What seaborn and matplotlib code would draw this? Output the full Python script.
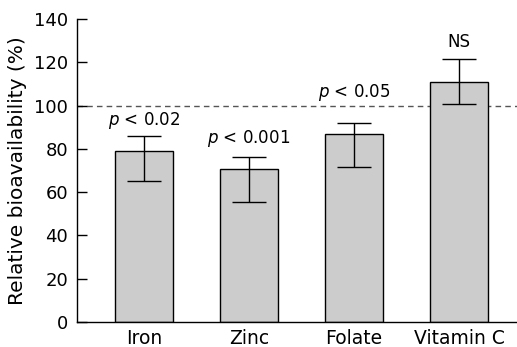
import numpy as np
import pandas as pd
import matplotlib
matplotlib.use("Agg")
import matplotlib.pyplot as plt
import seaborn as sns

# values
nutrients = ["Iron", "Zinc", "Folate", "Vitamin C"]
bioavail = [79, 70.7, 86.7, 111]
ci_low = [65.3, 55.6, 71.5, 100.7]
ci_high = [86, 76.4, 91.8, 121.4]
p_labels = ["$p$ < 0.02", "$p$ < 0.001", "$p$ < 0.05", "NS"]

sns.set_style("ticks")
plt.rcParams["font.family"] = ["DejaVu Sans"]
plt.rcParams["font.size"] = 12.5
plt.rcParams["text.color"] = "black"
plt.rcParams["axes.labelcolor"] = "black"
plt.rcParams["xtick.color"] = "black"
plt.rcParams["ytick.color"] = "black"

df = pd.DataFrame({"nutrient": nutrients, "value": bioavail})

fig = plt.figure(figsize=(5.17, 3.47), dpi=100)
ax = fig.add_axes([0.148, 0.072, 0.852, 0.873])

sns.barplot(data=df, x="nutrient", y="value", color="#cccccc",
            edgecolor="black", linewidth=1.0, width=0.55,
            errorbar=None, saturation=1, ax=ax)

x = np.arange(len(nutrients))
vals = np.array(bioavail)
yerr = np.vstack([vals - np.array(ci_low), np.array(ci_high) - vals])
ax.errorbar(x, vals, yerr=yerr, fmt="none", ecolor="black",
            elinewidth=1.0, capsize=12, capthick=1.0, zorder=3)

# reference line at 100 %
ax.axhline(100, color="#555555", linestyle=(0, (4, 3)), linewidth=1.0, zorder=0)

# significance labels above the whiskers
offsets = [7, 8.5, 14.5, 8]
for xi, top, lab, off in zip(x, ci_high, p_labels, offsets):
    ax.text(xi, top + off, lab, ha="center", va="center", fontsize=12)

ax.set_ylim(0, 140)
ax.set_xlim(-0.64, 3.55)
ax.set_yticks(range(0, 141, 20))
ax.set_xlabel("")
ax.set_ylabel("Relative bioavailability (%)", fontsize=14.5, labelpad=5)
ax.tick_params(axis="y", direction="in", length=7, width=1, pad=6, labelsize=13)
ax.tick_params(axis="x", length=0, pad=5, labelsize=13.5)
sns.despine(ax=ax)
for s in ["left", "bottom"]:
    ax.spines[s].set_linewidth(1.0)
    ax.spines[s].set_color("black")

fig.savefig("out.png", dpi=100)
